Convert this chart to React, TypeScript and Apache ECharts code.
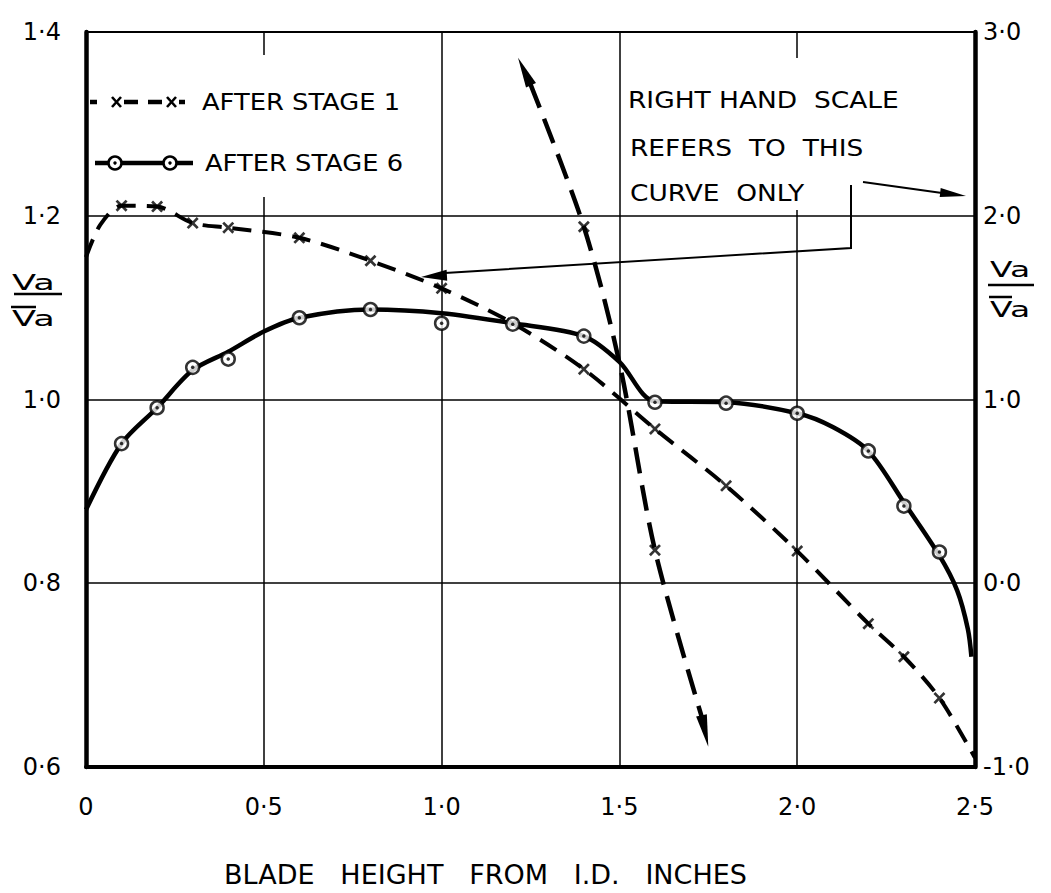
import React, { useEffect, useRef } from 'react';
import * as echarts from 'echarts';

// ---------- data ----------
const xTicks = [0, 0.5, 1.0, 1.5, 2.0, 2.5];
const leftTicks = [0.6, 0.8, 1.0, 1.2, 1.4];
const rightTicks = [-1, 0, 1, 2, 3];

// After stage 1 (left scale): faired curve and measured points
const stage1Curve: number[][] = [
  [0, 1.155], [0.04, 1.19], [0.1, 1.211], [0.2, 1.21], [0.3, 1.192], [0.4, 1.187],
  [0.6, 1.176], [0.8, 1.151], [1.0, 1.121], [1.2, 1.083], [1.4, 1.033], [1.6, 0.968],
  [1.8, 0.906], [2.0, 0.835], [2.2, 0.756], [2.3, 0.72], [2.4, 0.675], [2.5, 0.61],
];
const stage1Points: number[][] = [
  [0.1, 1.211], [0.2, 1.21], [0.3, 1.192], [0.4, 1.187], [0.6, 1.176], [0.8, 1.151],
  [1.0, 1.121], [1.2, 1.083], [1.4, 1.033], [1.6, 0.968], [1.8, 0.906], [2.0, 0.835],
  [2.2, 0.756], [2.3, 0.72], [2.4, 0.675],
];

// After stage 6 (left scale)
const stage6Curve: number[][] = [
  [0, 0.88], [0.1, 0.952], [0.2, 0.991], [0.3, 1.032], [0.4, 1.052], [0.5, 1.074],
  [0.6, 1.089], [0.8, 1.098], [1.0, 1.094], [1.2, 1.083], [1.4, 1.069], [1.5, 1.041],
  [1.6, 0.998], [1.8, 0.997], [2.0, 0.985], [2.1, 0.97], [2.2, 0.944], [2.3, 0.888],
  [2.4, 0.83], [2.45, 0.792], [2.48, 0.75], [2.49, 0.72],
];
const stage6Points: number[][] = [
  [0.1, 0.952], [0.2, 0.991], [0.3, 1.035], [0.4, 1.044], [0.6, 1.089], [0.8, 1.098],
  [1.0, 1.083], [1.2, 1.082], [1.4, 1.069], [1.6, 0.997], [1.8, 0.996], [2.0, 0.985],
  [2.2, 0.944], [2.3, 0.884], [2.4, 0.834],
];

// Curve referred to the right-hand scale
const rightCurve: number[][] = [
  [1.249, 2.72], [1.4, 1.94], [1.5, 1.2], [1.6, 0.18], [1.732, -0.73],
];
const rightPoints: number[][] = [[1.4, 1.94], [1.6, 0.18]];
// arrowheads: [tipX, tipY, baseX, baseY]
const rightArrows: number[][] = [
  [1.215, 2.86, 1.249, 2.72],
  [1.75, -0.89, 1.732, -0.73],
];

const fmt = (v: number) => (v === 0 ? '0' : v.toFixed(1).replace('.', '·'));

const FONT = 'DejaVu Sans';
const BLACK = '#000';
const CROSS =
  'path://M0,1.6 L1.6,0 L5,3.4 L8.4,0 L10,1.6 L6.6,5 L10,8.4 L8.4,10 L5,6.6 L1.6,10 L0,8.4 L3.4,5 Z';

function txt(text: string, x: number, y: number, size: number, sx = 1) {
  return {
    type: 'text',
    x,
    y,
    scaleX: sx,
    z: 20,
    style: {
      text,
      x: 0,
      y: 0,
      fill: BLACK,
      font: `${size}px "${FONT}"`,
      textAlign: 'left',
      textVerticalAlign: 'middle',
    },
  };
}
function ln(x1: number, y1: number, x2: number, y2: number, w: number) {
  return {
    type: 'line',
    z: 20,
    shape: { x1, y1, x2, y2 },
    style: { stroke: BLACK, lineWidth: w },
  };
}

export default function App() {
  const ref = useRef<HTMLDivElement>(null);
  useEffect(() => {
    const chart = echarts.init(ref.current!, null, { renderer: 'svg' });
    const option: any = {
      animation: false,
      backgroundColor: '#fff',
      textStyle: { fontFamily: FONT, color: BLACK },
      grid: {
        left: 86, right: 76, top: 32, bottom: 120,
        show: true, borderColor: BLACK, borderWidth: 2,
      },
      xAxis: {
        type: 'value',
        min: xTicks[0],
        max: xTicks[xTicks.length - 1],
        interval: 0.5,
        axisLine: { show: true, onZero: false, lineStyle: { color: BLACK, width: 4 } },
        axisTick: { show: false },
        splitLine: { show: true, lineStyle: { color: BLACK, width: 1.5 } },
        axisLabel: { formatter: fmt, fontSize: 24, color: BLACK, margin: 28, fontFamily: FONT },
        name: 'BLADE   HEIGHT   FROM   I.D.   INCHES',
        nameLocation: 'middle',
        nameGap: 94,
        nameTextStyle: { fontSize: 27, color: BLACK, fontFamily: FONT, padding: [0, 90, 0, 0] },
      },
      yAxis: [
        {
          type: 'value',
          position: 'left',
          min: leftTicks[0],
          max: leftTicks[leftTicks.length - 1],
          interval: 0.2,
          axisLine: { show: true, onZero: false, lineStyle: { color: BLACK, width: 4.5 } },
          axisTick: { show: false },
          splitLine: { show: true, lineStyle: { color: BLACK, width: 1.5 } },
          axisLabel: { formatter: fmt, fontSize: 24, color: BLACK, margin: 25, fontFamily: FONT },
        },
        {
          type: 'value',
          position: 'right',
          min: rightTicks[0],
          max: rightTicks[rightTicks.length - 1],
          interval: 1,
          axisLine: { show: true, onZero: false, lineStyle: { color: BLACK, width: 4.5 } },
          axisTick: { show: false },
          splitLine: { show: false },
          axisLabel: {
            formatter: (v: number) => v.toFixed(1).replace('.', '·'),
            fontSize: 24, color: BLACK, margin: 8, fontFamily: FONT,
          },
        },
      ],
      series: [
        {
          name: 'AFTER STAGE 1',
          type: 'line',
          data: stage1Curve,
          smooth: 0.3,
          showSymbol: false,
          z: 3,
          lineStyle: { color: BLACK, width: 4, type: [19, 11] },
        },
        {
          name: 'AFTER STAGE 1 points',
          type: 'scatter',
          data: stage1Points,
          symbol: CROSS,
          symbolSize: 12,
          z: 4,
          itemStyle: { color: BLACK },
        },
        {
          name: 'AFTER STAGE 6',
          type: 'line',
          data: stage6Curve,
          smooth: 0.3,
          showSymbol: false,
          z: 3,
          lineStyle: { color: BLACK, width: 4.5 },
        },
        {
          name: 'AFTER STAGE 6 points',
          type: 'scatter',
          data: stage6Points,
          symbol: 'circle',
          symbolSize: 13,
          z: 5,
          itemStyle: { color: '#fff', borderColor: BLACK, borderWidth: 2.5 },
        },
        {
          name: 'AFTER STAGE 6 centres',
          type: 'scatter',
          data: stage6Points,
          symbol: 'circle',
          symbolSize: 3.5,
          z: 6,
          itemStyle: { color: BLACK },
        },
        {
          name: 'RIGHT HAND SCALE CURVE',
          type: 'line',
          yAxisIndex: 1,
          data: rightCurve,
          smooth: 0.3,
          showSymbol: false,
          z: 3,
          lineStyle: { color: BLACK, width: 4.5, type: [26, 12] },
        },
        {
          name: 'RIGHT HAND SCALE points',
          type: 'scatter',
          yAxisIndex: 1,
          data: rightPoints,
          symbol: CROSS,
          symbolSize: 12,
          z: 4,
          itemStyle: { color: BLACK },
        },
        {
          name: 'RIGHT HAND SCALE arrows',
          type: 'custom',
          yAxisIndex: 1,
          data: rightArrows,
          z: 5,
          renderItem: (params: any, api: any) => {
            const tip = api.coord([api.value(0), api.value(1)]);
            const base = api.coord([api.value(2), api.value(3)]);
            const dx = tip[0] - base[0];
            const dy = tip[1] - base[1];
            const len = Math.hypot(dx, dy) || 1;
            const ux = dx / len;
            const uy = dy / len;
            const W = 5.5;
            const bx = base[0] - ux * 2;
            const by = base[1] - uy * 2;
            return {
              type: 'polygon',
              shape: {
                points: [
                  tip,
                  [bx - uy * W, by + ux * W],
                  [bx + uy * W, by - ux * W],
                ],
              },
              style: { fill: BLACK },
            };
          },
        },
      ],
      graphic: [
        // white panels that interrupt the grid lines
        { type: 'rect', z: 1, shape: { x: 90, y: 55, width: 330, height: 142 }, style: { fill: '#fff' } },
        { type: 'rect', z: 1, shape: { x: 624, y: 58, width: 340, height: 152 }, style: { fill: '#fff' } },
        // legend row 1 (dashed with crosses)
        ln(90, 102, 97, 102, 4.5),
        ln(124, 102, 138, 102, 4.5),
        ln(148, 102, 162, 102, 4.5),
        ln(179, 102, 185, 102, 4.5),
        ln(112, 97, 121, 107, 2.6), ln(121, 97, 112, 107, 2.6),
        ln(167, 97, 176, 107, 2.6), ln(176, 97, 167, 107, 2.6),
        txt('AFTER STAGE 1', 202, 102, 23, 1.12),
        // legend row 2 (solid with circles)
        ln(95, 163, 193, 163, 4.5),
        { type: 'circle', z: 21, shape: { cx: 115, cy: 163, r: 6.5 }, style: { fill: '#fff', stroke: BLACK, lineWidth: 2.5 } },
        { type: 'circle', z: 21, shape: { cx: 170, cy: 163, r: 6.5 }, style: { fill: '#fff', stroke: BLACK, lineWidth: 2.5 } },
        { type: 'circle', z: 22, shape: { cx: 115, cy: 163, r: 1.7 }, style: { fill: BLACK } },
        { type: 'circle', z: 22, shape: { cx: 170, cy: 163, r: 1.7 }, style: { fill: BLACK } },
        txt('AFTER STAGE 6', 205, 163, 23, 1.12),
        // annotation
        txt('RIGHT HAND  SCALE', 628, 100, 23, 1.15),
        txt('REFERS  TO  THIS', 630, 148, 23, 1.15),
        txt('CURVE  ONLY', 630, 193, 23, 1.15),
        ln(863, 182, 942, 193, 2),
        { type: 'polygon', z: 20, shape: { points: [[966, 196], [939.7, 197], [940.7, 188]] }, style: { fill: BLACK } },
        {
          type: 'polyline', z: 20,
          shape: { points: [[851, 185], [851, 248], [445, 273]] },
          style: { stroke: BLACK, lineWidth: 2, fill: 'none' },
        },
        { type: 'polygon', z: 20, shape: { points: [[421, 277], [446.6, 269.8], [447.2, 280.7]] }, style: { fill: BLACK } },
        // left axis quantity Va / V̄a
        txt('Va', 12, 283, 22, 1.6),
        ln(14, 294, 62, 294, 2.5),
        txt('Va', 12, 319, 22, 1.6),
        ln(11, 307, 36, 307, 2.5),
        // right axis quantity
        txt('Va', 990, 270, 22, 1.5),
        ln(988, 285, 1034, 285, 2.5),
        txt('Va', 990, 310, 22, 1.5),
        ln(989, 297, 1012, 297, 2.5),
      ],
    };
    chart.setOption(option);
    return () => chart.dispose();
  }, []);
  return (
    <div
      ref={ref}
      style={{ position: 'fixed', left: 0, top: 0, width: 1051, height: 893, background: '#fff' }}
    />
  );
}
